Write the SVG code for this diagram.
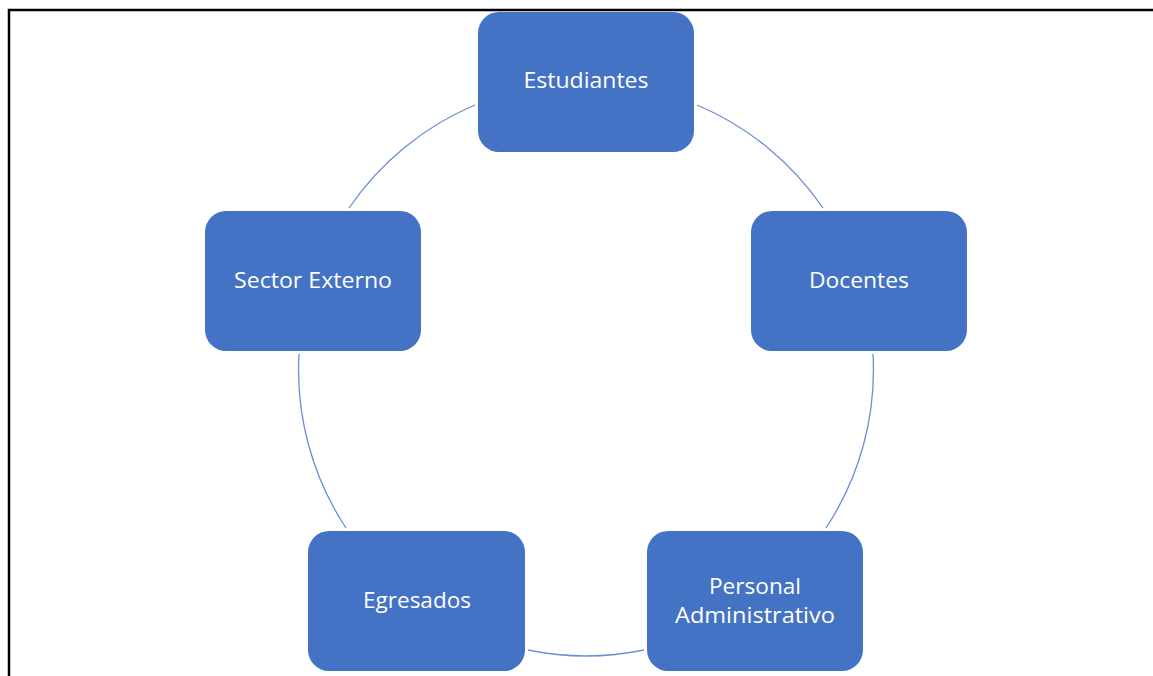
<svg xmlns="http://www.w3.org/2000/svg" width="1153" height="676" viewBox="0 0 1153 676">
<style>
.node rect{fill:#4472C4}
.node text{fill:#ffffff;font-family:"Open Sans","Liberation Sans",sans-serif;font-size:21px;text-anchor:middle}
.arc{fill:none;stroke:#6a8fd2;stroke-width:1.3}
</style>
<rect x="0" y="0" width="1153" height="676" fill="#ffffff"/>
<path d="M9,676 V10 H1153" fill="none" stroke="#000000" stroke-width="2.5"/>
<g id="connectors">
<path class="arc" d="M697,105 A287,287 0 0 1 823,208"/>
<path class="arc" d="M873,354 A287,287 0 0 1 826,528"/>
<path class="arc" d="M644,650 A287,287 0 0 1 528,650"/>
<path class="arc" d="M346,528 A287,287 0 0 1 299,354"/>
<path class="arc" d="M349,208 A287,287 0 0 1 475,105"/>
</g>
<g id="estudiantes" class="node">
<rect x="478" y="12" width="216" height="140" rx="21"/>
<text x="586" y="88" textLength="125" lengthAdjust="spacingAndGlyphs">Estudiantes</text>
</g>
<g id="docentes" class="node">
<rect x="751" y="211" width="216" height="140" rx="21"/>
<text x="859" y="288" textLength="100" lengthAdjust="spacingAndGlyphs">Docentes</text>
</g>
<g id="personal" class="node">
<rect x="647" y="531" width="216" height="140" rx="21"/>
<text x="755" y="594" textLength="92" lengthAdjust="spacingAndGlyphs">Personal</text>
<text x="755" y="623" textLength="160" lengthAdjust="spacingAndGlyphs">Administrativo</text>
</g>
<g id="egresados" class="node">
<rect x="308" y="531" width="217" height="140" rx="21"/>
<text x="417" y="608" textLength="108" lengthAdjust="spacingAndGlyphs">Egresados</text>
</g>
<g id="sector" class="node">
<rect x="205" y="211" width="216" height="140" rx="21"/>
<text x="313" y="288" textLength="158" lengthAdjust="spacingAndGlyphs">Sector Externo</text>
</g>
</svg>
